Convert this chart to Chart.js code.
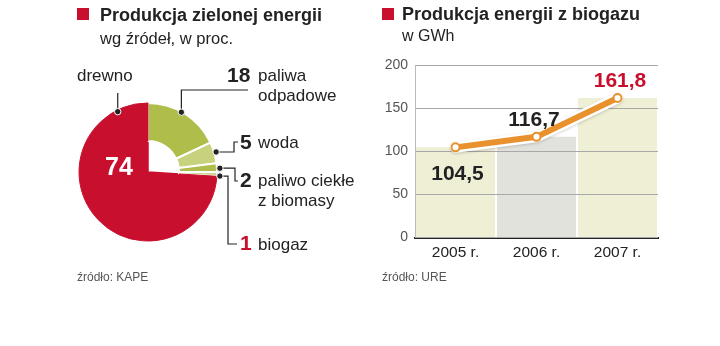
<!DOCTYPE html>
<html>
<head>
<meta charset="utf-8">
<script src="https://cdn.jsdelivr.net/npm/chart.js@4.4.1/dist/chart.umd.min.js"></script>
<style>
  body { margin: 0; width: 720px; height: 346px; background: #fff; position: relative; overflow: hidden;
         font-family: "Liberation Sans", Arial, sans-serif; color: #222; }
  canvas { position: absolute; top: 0; }
  .t { position: absolute; white-space: nowrap; line-height: 1; z-index: 2; }
  .sq { position: absolute; width: 12px; height: 12px; background: #c8102e; }
  .title { font-size: 18px; font-weight: bold; }
  .sub { font-size: 16.5px; }
  .lab { font-size: 17px; }
  .num { font-size: 21px; font-weight: bold; }
  .src { font-size: 12px; color: #555; }
  .val { font-size: 21px; font-weight: bold; width: 80px; text-align: center; }
  .red { color: #c8102e; }
</style>
</head>
<body>
<div id="pieBox" style="position:absolute;left:0;top:0;width:360px;height:300px"><canvas id="pieChart"></canvas></div>
<div id="barBox" style="position:absolute;left:360px;top:0;width:360px;height:300px"><canvas id="barChart"></canvas></div>

<div class="sq" style="left:77px;top:8px"></div>
<div class="t title" style="left:100px;top:6px">Produkcja zielonej energii</div>
<div class="t sub" style="left:100px;top:29.5px">wg źródeł, w proc.</div>

<div class="t lab" style="left:77px;top:67px">drewno</div>
<div class="t num" style="left:227px;top:64px">18</div>
<div class="t lab" style="left:258px;top:67px">paliwa</div>
<div class="t lab" style="left:258px;top:86.5px">odpadowe</div>
<div class="t num" style="left:240px;top:130.5px">5</div>
<div class="t lab" style="left:258px;top:134px">woda</div>
<div class="t num" style="left:240px;top:169px">2</div>
<div class="t lab" style="left:258px;top:172.3px">paliwo ciekłe</div>
<div class="t lab" style="left:258px;top:191.6px">z biomasy</div>
<div class="t num red" style="left:240px;top:232px">1</div>
<div class="t lab" style="left:258px;top:235.6px">biogaz</div>
<div class="t" style="left:105px;top:154px;font-size:25px;font-weight:bold;color:#fff">74</div>
<div class="t src" style="left:77px;top:271px">źródło: KAPE</div>

<div class="sq" style="left:382px;top:8px"></div>
<div class="t title" style="left:402px;top:5.3px">Produkcja energii z biogazu</div>
<div class="t" style="left:402px;top:28.2px;font-size:16px">w GWh</div>
<div class="t val" style="left:417.5px;top:162.2px">104,5</div>
<div class="t val" style="left:494px;top:108.2px">116,7</div>
<div class="t val red" style="left:580px;top:69px">161,8</div>
<div class="t src" style="left:382px;top:271px">źródło: URE</div>

<script>
// --- pie: green energy by source, % ---
const sources = ['paliwa odpadowe', 'woda', 'paliwo ciekłe z biomasy', 'biogaz', 'drewno'];
const shares = [18, 5, 2, 1, 74];
const pieColors = ['#afbe4b', '#c8d27c', '#afbe4b', '#d0d78f', '#c8102e'];

// --- bars: biogas energy, GWh ---
const years = ['2005 r.', '2006 r.', '2007 r.'];
const biogas = [104.5, 116.7, 161.8];
const barColors = ['#efefd6', '#e2e2dd', '#efefd6'];
const yMin = 0, yMax = 200, yStep = 50;

const RED = '#c8102e';
const ORANGE = '#e8912d';
const FONT = 'Liberation Sans';

// leader lines: slice index, position inside slice, radius tweak, then path
const leaders = [
    { slice: 4, at: 0.9, dr: -1.5, path: [['v', 93]] },
    { slice: 0, at: 0.45, dr: -0.5, path: [['v', 90], ['h', 248]] },
    { slice: 1, at: 0.49, dr: 2, path: [['h', 234], ['v', 142], ['h', 238]] },
    { slice: 2, at: 0.58, dr: 3, path: [['h', 235], ['v', 181], ['h', 238]] },
    { slice: 3, at: 0.9, dr: 3, path: [['h', 228], ['v', 244], ['h', 237]] }
];

const leaderPlugin = {
    id: 'leaders',
    afterDraw(chart) {
        const ctx = chart.ctx;
        const arcs = chart.getDatasetMeta(0).data;
        const dots = [];
        ctx.save();
        ctx.strokeStyle = '#222';
        ctx.lineWidth = 1.2;
        leaders.forEach(l => {
            const a = arcs[l.slice];
            const ang = a.startAngle + (a.endAngle - a.startAngle) * l.at;
            const r = a.outerRadius + l.dr;
            let x = a.x + Math.cos(ang) * r;
            let y = a.y + Math.sin(ang) * r;
            dots.push([x, y]);
            ctx.beginPath();
            ctx.moveTo(x, y);
            l.path.forEach(([dir, v]) => {
                if (dir === 'v') y = v; else x = v;
                ctx.lineTo(x, y);
            });
            ctx.stroke();
        });
        dots.forEach(([x, y]) => {
            ctx.beginPath();
            ctx.arc(x, y, 3.2, 0, Math.PI * 2);
            ctx.fillStyle = '#222';
            ctx.fill();
            ctx.strokeStyle = '#fff';
            ctx.lineWidth = 1;
            ctx.stroke();
        });
        ctx.restore();
    }
};

new Chart(document.getElementById('pieChart'), {
    type: 'doughnut',
    data: {
        labels: sources,
        datasets: [{
            data: shares,
            backgroundColor: pieColors,
            borderColor: pieColors.map((c, i) => i === 4 ? c : '#fff'),
            borderWidth: [2, 2, 2, 2, 1],
            weight: 55
        }, {
            data: shares,
            backgroundColor: pieColors.map((c, i) => i === 4 ? c : 'rgba(0,0,0,0)'),
            borderColor: RED,
            borderWidth: [0, 0, 0, 0, 1.5],
            weight: 45
        }]
    },
    options: {
        responsive: true,
        maintainAspectRatio: false,
        animation: false,
        cutout: 0,
        layout: { padding: { left: 78, top: 102, right: 142, bottom: 58 } },
        plugins: { legend: { display: false }, tooltip: { enabled: false } }
    },
    plugins: [leaderPlugin]
});

// redraw the y grid on top of the bars but below the line
const gridOverBars = {
    id: 'gridOverBars',
    beforeDatasetDraw(chart, args) {
        if (args.meta.label === 'outline') {
            chart.ctx.save();
            chart.ctx.shadowColor = 'rgba(0,0,0,0.18)';
            chart.ctx.shadowBlur = 3;
            chart.ctx.shadowOffsetY = 1;
        }
    },
    afterDatasetDraw(chart, args) {
        if (args.meta.label === 'outline') chart.ctx.restore();
        if (args.meta.type === 'bar') {
            chart.scales.y.drawGrid(chart.chartArea);
            if (chart.scales.y.drawBorder) chart.scales.y.drawBorder();
        }
    }
};

new Chart(document.getElementById('barChart'), {
    type: 'bar',
    data: {
        labels: years,
        datasets: [{
            label: 'GWh',
            data: biogas,
            backgroundColor: barColors,
            borderWidth: 0,
            categoryPercentage: 1,
            barPercentage: 0.975,
            order: 3
        }, {
            type: 'line',
            label: 'outline',
            data: biogas,
            borderColor: '#fff',
            borderWidth: 11,
            borderCapStyle: 'round',
            borderJoinStyle: 'round',
            pointRadius: 0,
            tension: 0,
            order: 2
        }, {
            type: 'line',
            label: 'trend',
            data: biogas,
            borderColor: ORANGE,
            borderWidth: 6,
            borderCapStyle: 'round',
            borderJoinStyle: 'round',
            pointRadius: 4,
            pointBorderWidth: 2,
            pointBackgroundColor: '#fff',
            pointBorderColor: ORANGE,
            tension: 0,
            order: 1
        }]
    },
    options: {
        responsive: true,
        maintainAspectRatio: false,
        animation: false,
        layout: { padding: { left: 0, top: 65, right: 62, bottom: 32.5 } },
        plugins: { legend: { display: false }, tooltip: { enabled: false } },
        scales: {
            x: {
                z: 1,
                grid: { display: false },
                border: { display: true, color: '#222', width: 2 },
                ticks: { color: '#222', font: { family: FONT, size: 15.5 }, padding: -2 },
                afterFit(scale) { scale.height = 30; }
            },
            y: {
                min: yMin,
                max: yMax,
                ticks: { stepSize: yStep, color: '#555', font: { family: FONT, size: 14 }, padding: 7 },
                grid: { color: '#a8a8a8', lineWidth: 1, drawTicks: false },
                border: { display: true, color: '#bbb', width: 1 },
                afterFit(scale) { scale.width = 55; }
            }
        }
    },
    plugins: [gridOverBars]
});
</script>
</body>
</html>
